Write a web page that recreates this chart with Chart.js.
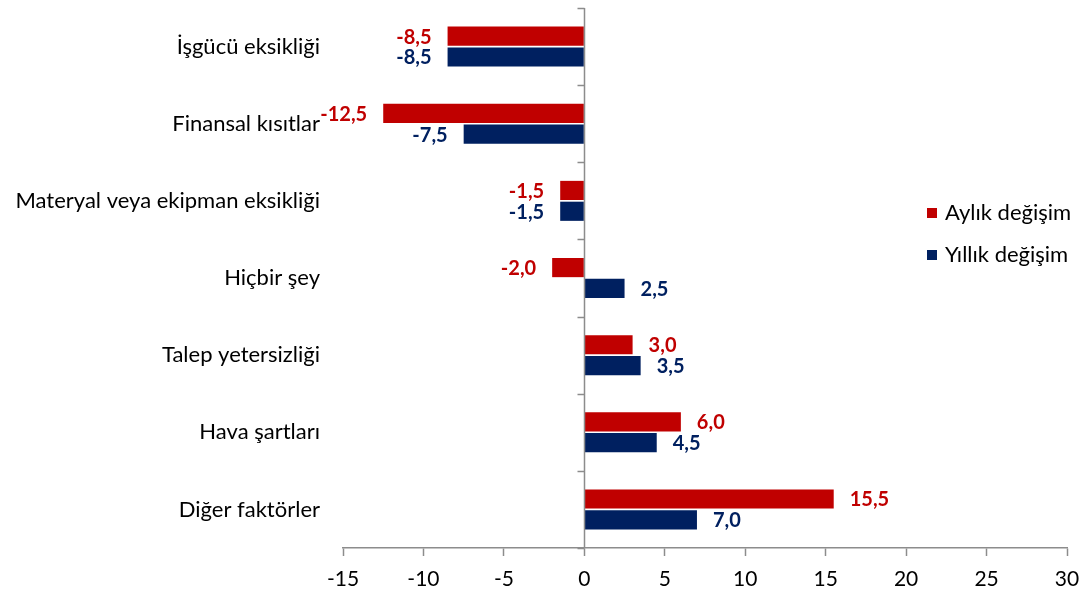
<!DOCTYPE html>
<html lang="tr">
<head>
<meta charset="utf-8">
<script src="https://cdn.jsdelivr.net/npm/chart.js@4/dist/chart.umd.min.js"></script>
<style>
  html, body { margin: 0; padding: 0; background: #fff; }
  #wrap { width: 1091px; height: 597px; }
</style>
</head>
<body>
<div id="wrap"><canvas id="bars"></canvas></div>
<script>
const categories = [
  "İşgücü eksikliği",
  "Finansal kısıtlar",
  "Materyal veya ekipman eksikliği",
  "Hiçbir şey",
  "Talep yetersizliği",
  "Hava şartları",
  "Diğer faktörler"
];
const monthlyChange = [-8.5, -12.5, -1.5, -2.0, 3.0, 6.0, 15.5];
const yearlyChange = [-8.5, -7.5, -1.5, 2.5, 3.5, 4.5, 7.0];
const seriesNames = ["Aylık değişim", "Yıllık değişim"];
const xMin = -15, xMax = 30, xStep = 5;

const RED = "#C00000";
const NAVY = "#002060";
const AXIS = "#8c8c8c";
const FONT = "Lato, 'Open Sans', sans-serif";

// value labels next to each bar end, comma decimals
const valueLabels = {
  id: "valueLabels",
  afterDatasetsDraw(chart) {
    const ctx = chart.ctx;
    ctx.save();
    ctx.font = "bold 20px " + FONT;
    ctx.textBaseline = "middle";
    chart.data.datasets.forEach((ds, i) => {
      const meta = chart.getDatasetMeta(i);
      meta.data.forEach((bar, j) => {
        const v = ds.data[j];
        const txt = v.toFixed(1).replace(".", ",");
        ctx.fillStyle = ds.backgroundColor;
        if (v < 0) {
          ctx.textAlign = "right";
          ctx.fillText(txt, bar.x - 16, bar.y + 1);
        } else {
          ctx.textAlign = "left";
          ctx.fillText(txt, bar.x + 16, bar.y + 1);
        }
      });
    });
    ctx.restore();
  }
};

// vertical axis line at x = 0 with small ticks between categories
const zeroAxis = {
  id: "zeroAxis",
  afterDatasetsDraw(chart) {
    const ctx = chart.ctx;
    const xs = chart.scales.x, ys = chart.scales.y;
    const x0 = Math.round(xs.getPixelForValue(0)) + 0.5;
    ctx.save();
    ctx.strokeStyle = AXIS;
    ctx.lineWidth = 1.5;
    ctx.beginPath();
    ctx.moveTo(x0, chart.chartArea.top);
    ctx.lineTo(x0, chart.chartArea.bottom);
    for (let i = 0; i <= categories.length; i++) {
      const y = Math.round(ys.getPixelForValue(i - 0.5)) + 0.5;
      ctx.moveTo(x0 - 7, y);
      ctx.lineTo(x0, y);
    }
    ctx.stroke();
    ctx.restore();
  }
};

// legend drawn inside the plot on the right, like the original
const sideLegend = {
  id: "sideLegend",
  afterDraw(chart) {
    const ctx = chart.ctx;
    const area = chart.chartArea;
    ctx.save();
    ctx.font = "22px " + FONT;
    ctx.textBaseline = "middle";
    ctx.textAlign = "left";
    chart.data.datasets.forEach((ds, i) => {
      const y = area.top + 205 + i * 42;
      const x = area.right - 140;
      ctx.fillStyle = ds.backgroundColor;
      ctx.fillRect(x, y - 5, 10, 10);
      ctx.fillStyle = "#000";
      ctx.fillText(ds.label, x + 18, y);
    });
    ctx.restore();
  }
};

new Chart(document.getElementById("bars").getContext("2d"), {
  type: "bar",
  data: {
    labels: categories,
    datasets: [
      { label: seriesNames[0], data: monthlyChange, backgroundColor: RED,
        categoryPercentage: 0.54, barPercentage: 0.92 },
      { label: seriesNames[1], data: yearlyChange, backgroundColor: NAVY,
        categoryPercentage: 0.54, barPercentage: 0.92 }
    ]
  },
  options: {
    indexAxis: "y",
    responsive: true,
    maintainAspectRatio: false,
    animation: false,
    layout: { padding: { top: 8, right: 24, bottom: 0, left: 0 } },
    plugins: {
      legend: { display: false },
      tooltip: { enabled: false }
    },
    scales: {
      x: {
        type: "linear",
        min: xMin,
        max: xMax,
        ticks: { stepSize: xStep, color: "#000", padding: 11, font: { family: FONT, size: 21 } },
        grid: { drawOnChartArea: false, tickLength: 8, tickColor: AXIS, tickWidth: 1.5 },
        border: { color: AXIS, width: 1.5 },
        afterFit(scale) { scale.height = 49; }
      },
      y: {
        offset: true,
        ticks: { color: "#000", padding: 15, font: { family: FONT, size: 22 } },
        grid: { display: false },
        border: { display: false },
        afterFit(scale) {
          scale.width = 343;
          scale.paddingTop = 0;
          scale.paddingBottom = 0;
        }
      }
    }
  },
  plugins: [zeroAxis, valueLabels, sideLegend]
});
</script>
</body>
</html>
